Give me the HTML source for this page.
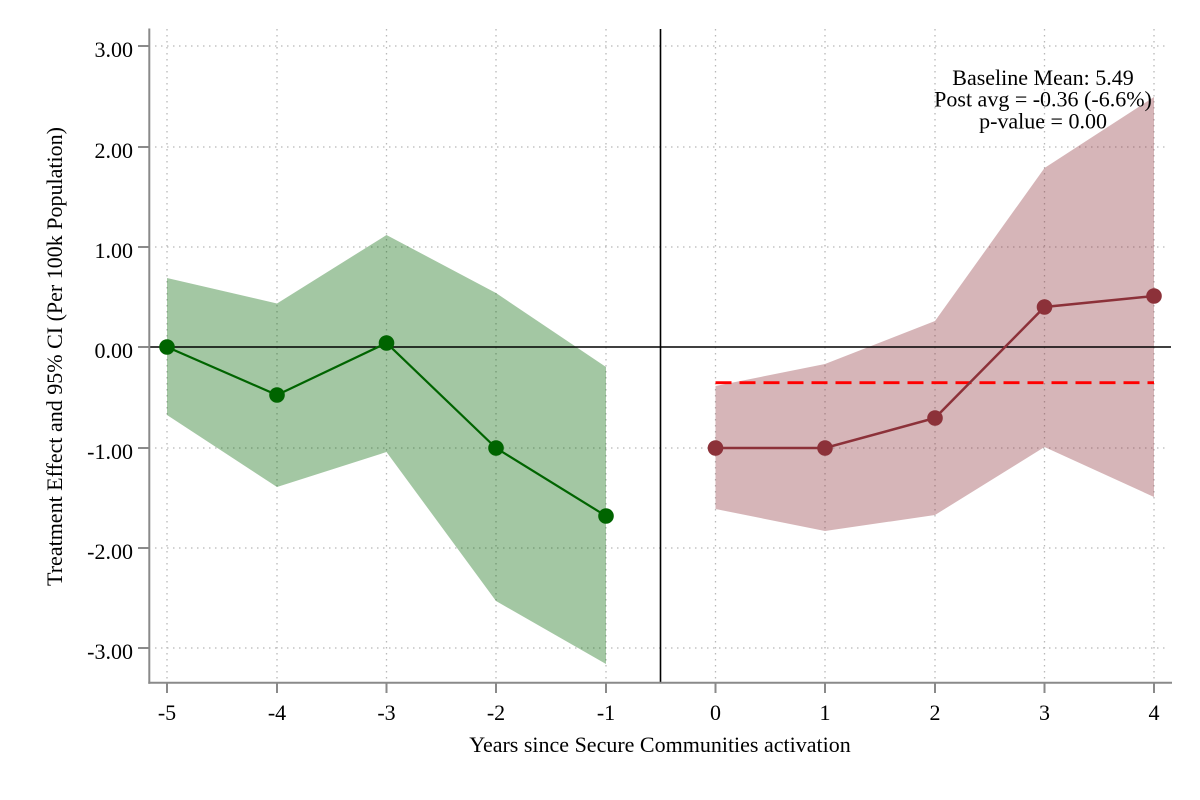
<!DOCTYPE html>
<html>
<head>
<meta charset="utf-8">
<style>
html,body{margin:0;padding:0;background:#fff;}
svg{display:block;}
text{font-family:"Liberation Serif","Times New Roman",serif;fill:#000;}
</style>
</head>
<body>
<svg width="1200" height="800" viewBox="0 0 1200 800" xmlns="http://www.w3.org/2000/svg">
<rect x="0" y="0" width="1200" height="800" fill="#fff"/>
<!-- grid horizontal -->
<g stroke="#b8b8b8" stroke-width="1.3" stroke-dasharray="1.5 4.5" fill="none">
<line x1="155" y1="46" x2="1168" y2="46"/>
<line x1="155" y1="147" x2="1168" y2="147"/>
<line x1="155" y1="247" x2="1168" y2="247"/>
<line x1="155" y1="448" x2="1168" y2="448"/>
<line x1="155" y1="548" x2="1168" y2="548"/>
<line x1="155" y1="648" x2="1168" y2="648"/>
<!-- grid vertical -->
<line x1="167" y1="29" x2="167" y2="682"/>
<line x1="277" y1="29" x2="277" y2="682"/>
<line x1="386.5" y1="29" x2="386.5" y2="682"/>
<line x1="496" y1="29" x2="496" y2="682"/>
<line x1="606" y1="29" x2="606" y2="682"/>
<line x1="715.5" y1="29" x2="715.5" y2="682"/>
<line x1="825" y1="29" x2="825" y2="682"/>
<line x1="935" y1="29" x2="935" y2="682"/>
<line x1="1044.5" y1="29" x2="1044.5" y2="682"/>
<line x1="1154" y1="29" x2="1154" y2="682"/>
</g>
<!-- CI bands -->
<polygon fill="#006400" fill-opacity="0.36" points="167,278 277,303.5 386.5,235 496,293 606,367 606,664 496,601 386.5,452 277,487 167,415"/>
<polygon fill="#8c3139" fill-opacity="0.36" points="715.5,386 825,364 935,321 1044.5,168 1154,97 1154,497 1044.5,447 935,515 825,531 715.5,509"/>
<!-- zero line and vertical line -->
<line x1="150" y1="347" x2="1171" y2="347" stroke="#000" stroke-width="1.5"/>
<line x1="660.5" y1="29" x2="660.5" y2="683" stroke="#000" stroke-width="1.6"/>
<!-- red dashed post avg -->
<line x1="715.5" y1="382.7" x2="1154" y2="382.7" stroke="#ff0000" stroke-width="2.8" stroke-dasharray="16 8"/>
<!-- series lines -->
<polyline fill="none" stroke="#006400" stroke-width="2.2" points="167,347 277,395 386.5,343 496,448 606,516"/>
<polyline fill="none" stroke="#8c3139" stroke-width="2.5" points="715.5,448 825,448 935,418 1044.5,307 1154,296"/>
<!-- markers -->
<g fill="#006400">
<circle cx="167" cy="347" r="7.8"/>
<circle cx="277" cy="395" r="7.8"/>
<circle cx="386.5" cy="343" r="7.8"/>
<circle cx="496" cy="448" r="7.8"/>
<circle cx="606" cy="516" r="7.8"/>
</g>
<g fill="#8c3139">
<circle cx="715.5" cy="448" r="7.8"/>
<circle cx="825" cy="448" r="7.8"/>
<circle cx="935" cy="418" r="7.8"/>
<circle cx="1044.5" cy="307" r="7.8"/>
<circle cx="1154" cy="296" r="7.8"/>
</g>
<!-- axes -->
<g stroke="#8a8a8a" stroke-width="2" fill="none">
<line x1="149.3" y1="28.5" x2="149.3" y2="683.7"/>
<line x1="148.3" y1="682.7" x2="1172" y2="682.7"/>
<!-- y ticks -->
<line x1="138" y1="46" x2="149" y2="46"/>
<line x1="138" y1="147" x2="149" y2="147"/>
<line x1="138" y1="247" x2="149" y2="247"/>
<line x1="138" y1="347" x2="149" y2="347"/>
<line x1="138" y1="448" x2="149" y2="448"/>
<line x1="138" y1="548" x2="149" y2="548"/>
<line x1="138" y1="648" x2="149" y2="648"/>
<!-- x ticks -->
<line x1="167" y1="683" x2="167" y2="693"/>
<line x1="277" y1="683" x2="277" y2="693"/>
<line x1="386.5" y1="683" x2="386.5" y2="693"/>
<line x1="496" y1="683" x2="496" y2="693"/>
<line x1="606" y1="683" x2="606" y2="693"/>
<line x1="715.5" y1="683" x2="715.5" y2="693"/>
<line x1="825" y1="683" x2="825" y2="693"/>
<line x1="935" y1="683" x2="935" y2="693"/>
<line x1="1044.5" y1="683" x2="1044.5" y2="693"/>
<line x1="1154" y1="683" x2="1154" y2="693"/>
</g>
<!-- y tick labels -->
<g font-size="22" text-anchor="end">
<text x="133" y="57">3.00</text>
<text x="133" y="158">2.00</text>
<text x="133" y="258">1.00</text>
<text x="133" y="358">0.00</text>
<text x="133" y="459">-1.00</text>
<text x="133" y="559">-2.00</text>
<text x="133" y="659">-3.00</text>
</g>
<!-- x tick labels -->
<g font-size="22" text-anchor="middle">
<text x="167" y="720">-5</text>
<text x="277" y="720">-4</text>
<text x="386.5" y="720">-3</text>
<text x="496" y="720">-2</text>
<text x="606" y="720">-1</text>
<text x="715.5" y="720">0</text>
<text x="825" y="720">1</text>
<text x="935" y="720">2</text>
<text x="1044.5" y="720">3</text>
<text x="1154" y="720">4</text>
</g>
<!-- axis titles -->
<text x="660" y="752" font-size="22" text-anchor="middle">Years since Secure Communities activation</text>
<text transform="translate(62,356.5) rotate(-90)" x="0" y="0" font-size="22" text-anchor="middle">Treatment Effect and 95% CI (Per 100k Population)</text>
<!-- annotation -->
<g font-size="22" text-anchor="middle">
<text x="1043" y="85">Baseline Mean: 5.49</text>
<text x="1043" y="106.7">Post avg = -0.36 (-6.6%)</text>
<text x="1043" y="128.3">p-value = 0.00</text>
</g>
</svg>
</body>
</html>
